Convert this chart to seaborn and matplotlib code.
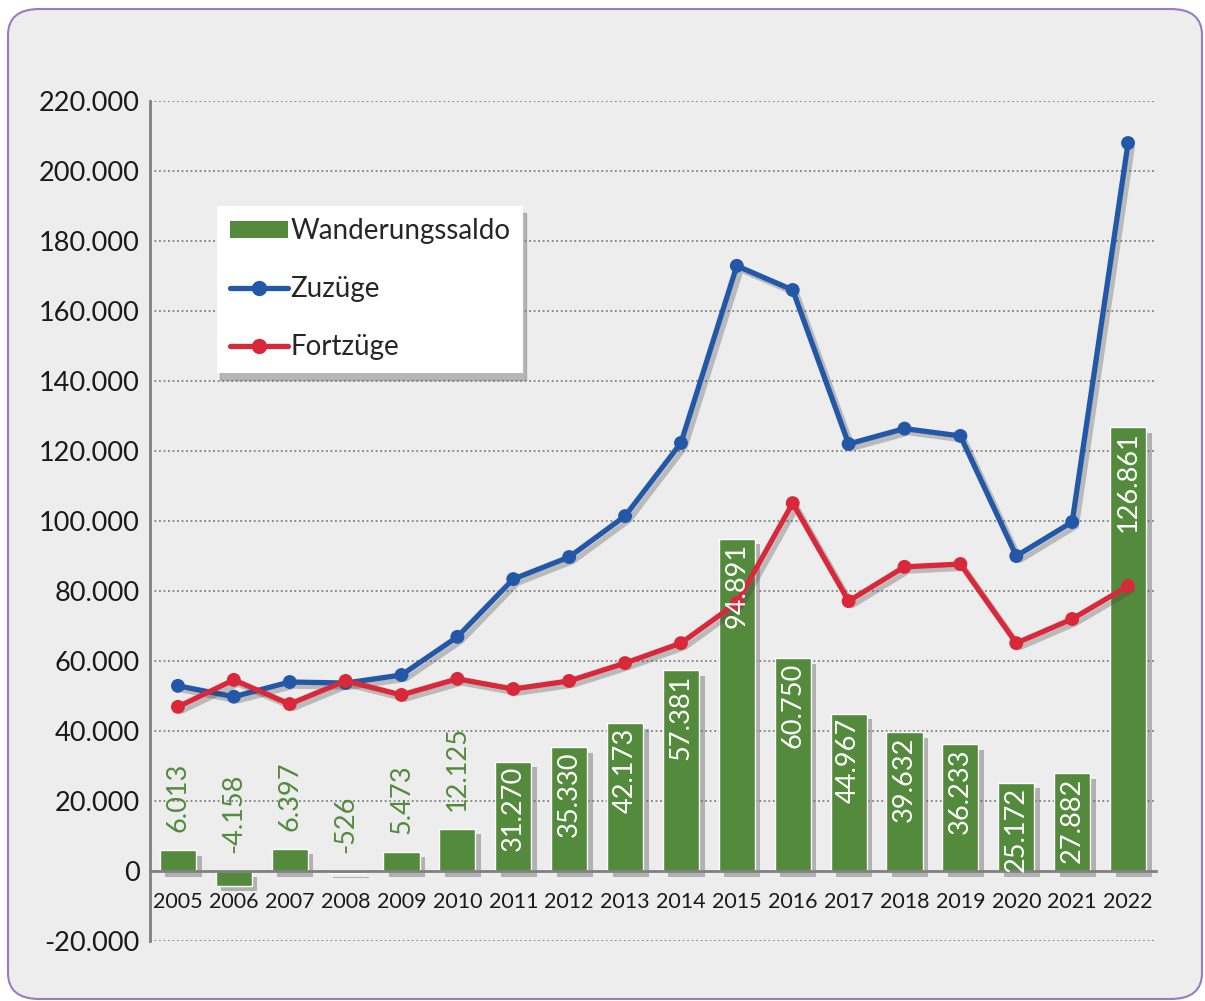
import pandas as pd
import matplotlib.pyplot as plt
import matplotlib.patheffects as pe
from matplotlib.patches import FancyBboxPatch, Patch
from matplotlib.lines import Line2D
from matplotlib.ticker import FixedLocator
import seaborn as sns

jahre = ['2005', '2006', '2007', '2008', '2009', '2010', '2011', '2012', '2013',
         '2014', '2015', '2016', '2017', '2018', '2019', '2020', '2021', '2022']
saldo = [6013, -4158, 6397, -526, 5473, 12125, 31270, 35330, 42173,
         57381, 94891, 60750, 44967, 39632, 36233, 25172, 27882, 126861]
zuzuege = [52900, 49800, 54000, 53700, 56000, 66900, 83400, 89700, 101400,
           122300, 172900, 166000, 122000, 126400, 124300, 90000, 99700, 208000]
fortzuege = [46900, 54600, 47700, 54300, 50300, 54900, 52000, 54300, 59400,
             65100, 76600, 105100, 77100, 86900, 87700, 65100, 72000, 81400]
yticks = list(range(-20000, 220001, 20000))

gruen = '#538a3c'
blau = '#2357a8'
rot = '#d8283a'
grau = '#808080'

df = pd.DataFrame({'Jahr': jahre, 'Wanderungssaldo': saldo,
                   'Zuzüge': zuzuege, 'Fortzüge': fortzuege})

sns.set_style('white')
plt.rcParams['font.family'] = ['Lato', 'DejaVu Sans']

fig = plt.figure(figsize=(12.05, 10.01), dpi=100)
fig.patch.set_facecolor('white')
bg = FancyBboxPatch((8 / 1205, 2 / 1001), 1194 / 1205, 990 / 1001,
                    boxstyle='round,pad=0,rounding_size=0.026',
                    transform=fig.transFigure, facecolor='#ecedec',
                    edgecolor='#9b7bbf', linewidth=1.5, zorder=-5)
fig.patches.append(bg)

ax = fig.add_axes([150 / 1205, 1 - 941 / 1001, 1006 / 1205, 840 / 1001])
ax.set_facecolor('none')
ax.set_zorder(2)

sns.barplot(data=df, x='Jahr', y='Wanderungssaldo', color=gruen, width=0.645,
            saturation=1, ax=ax, zorder=3)
for bar in ax.patches:
    bar.set_path_effects([pe.SimplePatchShadow(offset=(4, -4), shadow_rgbFace='#555555', alpha=0.4),
                          pe.Normal()])

shadow = [pe.SimpleLineShadow(offset=(3, -3), shadow_color='#444444', alpha=0.3), pe.Normal()]
sns.lineplot(data=df, x='Jahr', y='Zuzüge', color=blau, marker='o', markersize=10,
             markeredgewidth=0, linewidth=3.8, ax=ax, zorder=5, path_effects=shadow)
sns.lineplot(data=df, x='Jahr', y='Fortzüge', color=rot, marker='o', markersize=10,
             markeredgewidth=0, linewidth=3.8, ax=ax, zorder=5, path_effects=shadow)

# Beschriftung der Balken: grosse Balken innen weiss, kleine darueber gruen
for i, v in enumerate(saldo):
    txt = f'{v:,}'.replace(',', '.')
    if v >= 20000:
        ax.annotate(txt, (i, v), xytext=(0, -3), textcoords='offset points',
                    rotation=90, ha='center', va='top', color='white',
                    fontsize=19.5, zorder=6)
    else:
        ax.annotate(txt, (i, max(v, 0)), xytext=(0, 13), textcoords='offset points',
                    rotation=90, ha='center', va='bottom', color=gruen,
                    fontsize=19.5, zorder=6)

ax.set_xlim(-0.5, len(jahre) - 0.5)
ax.set_ylim(-20000, 220000)
ax.set_yticks(yticks)
ax.set_yticklabels([f'{t:,}'.replace(',', '.') for t in yticks], fontsize=19.5, color='#1a1a1a')
ax.set_xlabel('')
ax.set_ylabel('')
ax.tick_params(axis='y', length=6, width=1.5, color=grau, pad=1.5)
ax.tick_params(axis='x', which='major', length=0, pad=15, labelsize=15.5, labelcolor='#1a1a1a')
ax.xaxis.set_minor_locator(FixedLocator([i + 0.5 for i in range(len(jahre))]))
ax.tick_params(axis='x', which='minor', length=8, width=1.5, color=grau, direction='out')

for t in yticks:
    if t != 0:
        ax.axhline(t, color=grau, linestyle=(0, (1, 1.5)), linewidth=1.3, zorder=1)

for s in ['top', 'right']:
    ax.spines[s].set_visible(False)
ax.spines['left'].set_color(grau)
ax.spines['left'].set_linewidth(2)
ax.spines['bottom'].set_position(('data', 0))
ax.spines['bottom'].set_color(grau)
ax.spines['bottom'].set_linewidth(2)
ax.spines['bottom'].set_zorder(4)

handles = [Patch(facecolor=gruen, edgecolor='none'),
           Line2D([], [], color=blau, marker='o', markersize=10, linewidth=3.8),
           Line2D([], [], color=rot, marker='o', markersize=10, linewidth=3.8)]
leg = ax.legend(handles, ['Wanderungssaldo', 'Zuzüge', 'Fortzüge'],
                loc='upper left', bbox_to_anchor=(217 / 1205, 1 - 206 / 1001),
                bbox_transform=fig.transFigure, fontsize=20, frameon=True,
                fancybox=False, framealpha=1, edgecolor='none', facecolor='white',
                labelspacing=1.15, handlelength=2.1, handleheight=0.55,
                handletextpad=0.1, borderpad=0.45, borderaxespad=0,
                shadow={'ox': 2, 'oy': -5, 'color': '#777777', 'alpha': 0.45})
leg.set_zorder(10)

fig.savefig('out.png', dpi=100)
